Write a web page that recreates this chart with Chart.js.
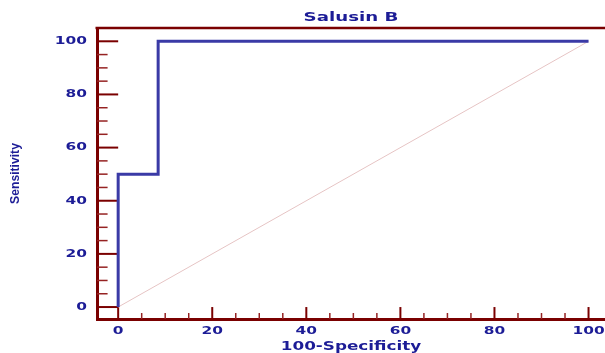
<!DOCTYPE html>
<html>
<head>
<meta charset="utf-8">
<script src="https://cdn.jsdelivr.net/npm/chart.js@4/dist/chart.umd.min.js"></script>
<style>
  html, body { margin: 0; padding: 0; background: #ffffff; }
  #wrap { width: 605px; height: 353px; }
</style>
</head>
<body>
<div id="wrap"><canvas id="c" width="605" height="353"></canvas></div>
<script>
// ---- data ----
const chartTitle = 'Salusin B';
const xTitle = '100-Specificity';
const yTitle = 'Sensitivity';
const rocX = [0, 0, 8.5, 8.5, 100];
const rocY = [0, 50, 50, 100, 100];
const refX = [0, 100];
const refY = [0, 100];
const majorTicks = [0, 20, 40, 60, 80, 100];
const tickLabels = ['0', '20', '40', '60', '80', '100'];
const minorTicks = [5, 10, 15, 25, 30, 35, 45, 50, 55, 65, 70, 75, 85, 90, 95];

const textColor = '#1c1c96';
const axisColor = '#7a0000';
const textStretch = 1.4;
const yTitleStretch = 0.9;

const rocData = rocX.map((x, i) => ({ x: x, y: rocY[i] }));
const refData = refX.map((x, i) => ({ x: x, y: refY[i] }));

const frameTicks = {
  id: 'frameTicks',
  beforeDraw(chart) {
    const ctx = chart.ctx;
    if (!ctx._stretchPatched) {
      const base = CanvasRenderingContext2D.prototype.fillText;
      ctx.fillText = function (t, x, y, mw) {
        let s = 1;
        if (this.font.indexOf('DejaVu') >= 0) s = textStretch;
        else if (this.font.indexOf('Liberation') >= 0) s = yTitleStretch;
        if (s !== 1) {
          this.save();
          this.translate(x, y);
          this.scale(s, 1);
          if (mw !== undefined && mw !== null) base.call(this, t, 0, 0, mw / s);
          else base.call(this, t, 0, 0);
          this.restore();
        } else {
          if (mw !== undefined && mw !== null) base.call(this, t, x, y, mw);
          else base.call(this, t, x, y);
        }
      };
      ctx._stretchPatched = true;
    }
  },
  beforeDatasetsDraw(chart) {
    const { ctx, chartArea, scales: { x, y } } = chart;
    const x0 = x.getPixelForValue(0);
    const y0 = y.getPixelForValue(0);
    ctx.save();
    ctx.strokeStyle = axisColor;
    ctx.lineCap = 'butt';
    // top frame line
    ctx.lineWidth = 2.5;
    ctx.beginPath();
    ctx.moveTo(chartArea.left - 1.5, chartArea.top);
    ctx.lineTo(chartArea.right, chartArea.top);
    ctx.stroke();
    // major ticks
    ctx.lineWidth = 2;
    majorTicks.forEach(v => {
      const py = y.getPixelForValue(v);
      ctx.beginPath();
      ctx.moveTo(chartArea.left, py);
      ctx.lineTo(x0, py);
      ctx.stroke();
      const px = x.getPixelForValue(v);
      ctx.beginPath();
      ctx.moveTo(px, chartArea.bottom);
      ctx.lineTo(px, y0);
      ctx.stroke();
    });
    // minor ticks
    ctx.lineWidth = 1.5;
    ctx.strokeStyle = '#952222';
    const yMid = (chartArea.left + x0) / 2;
    const xMid = (chartArea.bottom + y0) / 2;
    minorTicks.forEach(v => {
      const py = y.getPixelForValue(v);
      ctx.beginPath();
      ctx.moveTo(chartArea.left, py);
      ctx.lineTo(yMid, py);
      ctx.stroke();
      const px = x.getPixelForValue(v);
      ctx.beginPath();
      ctx.moveTo(px, chartArea.bottom);
      ctx.lineTo(px, xMid);
      ctx.stroke();
    });
    ctx.restore();
  }
};

new Chart(document.getElementById('c'), {
  type: 'scatter',
  data: {
    datasets: [
      {
        data: rocData,
        showLine: true,
        borderColor: '#3a3aa6',
        borderWidth: 3,
        borderJoinStyle: 'miter',
        borderCapStyle: 'butt',
        pointRadius: 0,
        tension: 0,
        fill: false
      },
      {
        data: refData,
        showLine: true,
        borderColor: '#e6c4c4',
        borderWidth: 1,
        pointRadius: 0,
        tension: 0,
        fill: false
      }
    ]
  },
  options: {
    responsive: false,
    devicePixelRatio: 1,
    animation: false,
    layout: { padding: 0 },
    plugins: {
      legend: { display: false },
      tooltip: { enabled: false },
      title: {
        display: true,
        text: chartTitle,
        fullSize: false,
        color: textColor,
        font: { family: 'DejaVu Sans', size: 13, weight: 'bold', lineHeight: 1.2 },
        padding: { top: 9.8, bottom: 2.6 }
      }
    },
    scales: {
      x: {
        type: 'linear',
        min: -4.5,
        max: 103.5,
        afterBuildTicks(scale) { scale.ticks = majorTicks.map(v => ({ value: v })); },
        afterFit(scale) {
          scale.height = 34;
          scale.paddingLeft = 0; scale.paddingRight = 0;
          scale.paddingTop = 0; scale.paddingBottom = 0;
        },
        grid: { display: true, drawOnChartArea: false, drawTicks: false },
        border: { display: true, color: axisColor, width: 3 },
        ticks: {
          autoSkip: false,
          maxRotation: 0,
          padding: 6,
          color: textColor,
          font: { family: 'DejaVu Sans', size: 11, weight: 'bold' },
          callback: (v) => tickLabels[majorTicks.indexOf(v)]
        },
        title: {
          display: true,
          text: xTitle,
          color: textColor,
          font: { family: 'DejaVu Sans', size: 12, weight: 'bold', lineHeight: 1 },
          padding: { top: 0, bottom: 0 }
        }
      },
      y: {
        type: 'linear',
        min: -4.5,
        max: 105,
        afterBuildTicks(scale) { scale.ticks = majorTicks.map(v => ({ value: v })); },
        afterFit(scale) {
          scale.width = 97;
          scale.paddingLeft = 0; scale.paddingRight = 0;
          scale.paddingTop = 0; scale.paddingBottom = 0;
        },
        grid: { display: true, drawOnChartArea: false, drawTicks: false },
        border: { display: true, color: axisColor, width: 3 },
        ticks: {
          autoSkip: false,
          padding: 10,
          color: textColor,
          font: { family: 'DejaVu Sans', size: 11, weight: 'bold' },
          callback: (v) => tickLabels[majorTicks.indexOf(v)]
        },
        title: {
          display: true,
          text: yTitle,
          color: textColor,
          font: { family: 'Liberation Sans', size: 13.5, weight: 'bold', lineHeight: 1.2 },
          padding: { top: 7.5, bottom: 0 }
        }
      }
    }
  },
  plugins: [frameTicks]
});
</script>
</body>
</html>
